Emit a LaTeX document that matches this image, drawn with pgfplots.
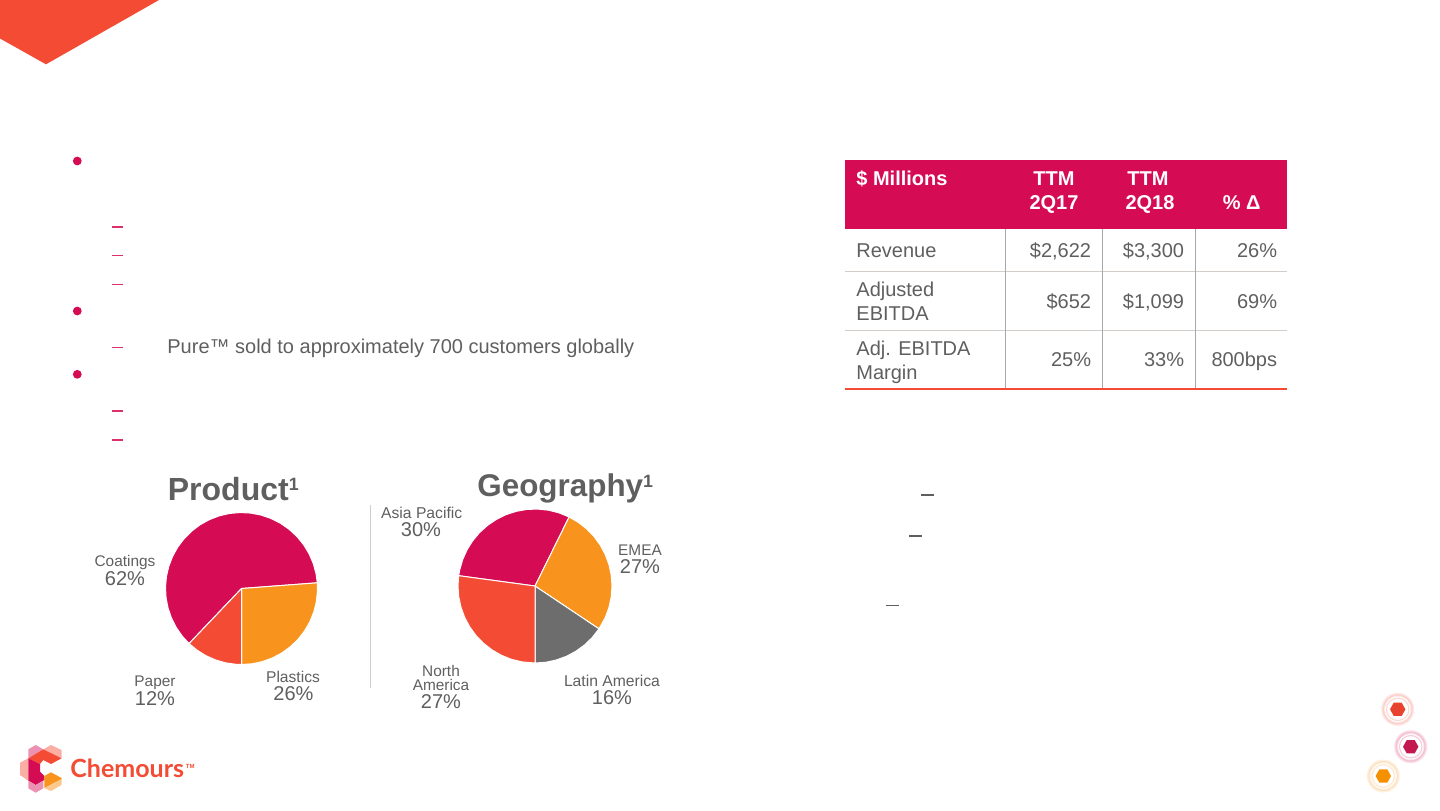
\documentclass[border=0pt]{standalone}
\usepackage{pgfplots}
\pgfplotsset{compat=1.18}
\usepgfplotslibrary{polar}
\usetikzlibrary{calc}
\usepackage{fontspec}
\setmainfont{Liberation Sans}
\newfontfamily\logofont{Lato}
\definecolor{magenta}{HTML}{D50B53}
\definecolor{redor}{HTML}{F34B34}
\definecolor{orange}{HTML}{F8931D}
\definecolor{slate}{HTML}{6D6D6D}
\definecolor{txt}{HTML}{5F5F5F}
\definecolor{rowline}{HTML}{D2CDC8}
\definecolor{colline}{HTML}{A8A8A8}
\definecolor{HexR}{HTML}{E8432F}
\definecolor{HexM}{HTML}{C2174F}
\definecolor{HexO}{HTML}{F59100}
\pgfplotsset{
  piechart/.style={
    hide axis, scale only axis, clip=false,
    xmin=0, xmax=360, ymin=0, ymax=1,
    anchor=center,
  },
  wedge/.style={fill=#1, draw=white, line width=0.5pt, line join=round},
}
% label helpers, sizes in pt (1 px = 0.5 pt)
\newcommand{\lab}[4]{\node[anchor=base, text=txt, font=\fontsize{#3}{#3}\selectfont, inner sep=0pt] at (#1,#2) {#4};}
\newcommand{\cell}[3]{\node[anchor=base east, text=txt, font=\fontsize{10}{10}\selectfont, inner sep=0pt] at (#1,#2) {#3};}
\newcommand{\rowlab}[2]{\node[anchor=base west, text=txt, font=\fontsize{10}{10}\selectfont, inner sep=0pt] at (856,#1) {#2};}
\newcommand{\head}[3]{\node[anchor=base, text=white, font=\fontsize{10}{10}\bfseries\selectfont, inner sep=0pt] at (#1,#2) {#3};}
\newcommand{\supone}[1]{\raisebox{#1}{\fontsize{8.9}{8.9}\selectfont 1}}
\newcommand{\hexmark}[4]{% x y hex colour, glow colour
  \fill[#4!14] (#1,#2) circle (16.5);
  \fill[#4!26] (#1,#2) circle (15);
  \fill[#4!12] (#1,#2) circle (13.6);
  \fill[white] (#1,#2) circle (12.8);
  \fill[#4!22] (#1,#2) circle (11.8);
  \fill[white] (#1,#2) circle (10.6);
  \fill[#3] ($(#1,#2)+(-7.7,0)$) -- ++(3.7,-6.6) -- ++(8,0) -- ++(3.7,6.6) -- ++(-3.7,6.6) -- ++(-8,0) -- cycle;
}
\begin{document}
\begin{tikzpicture}[x=0.5pt,y=-0.5pt]
\path[use as bounding box] (0,0) rectangle (1440,810);

% corner shape
\fill[redor] (0,0) -- (159,0) -- (46,64.3) -- (0,38.5) -- cycle;

% bullets
\foreach \y in {161,311,374.3} \fill[magenta] (77.3,\y) circle (4.4);
\foreach \y in {227,255.7,284.7,347.7,411,440} \draw[magenta!85!white, line width=0.65pt] (111.7,\y) -- (123,\y);
\node[anchor=base west, text=txt, font=\fontsize{10}{10}\selectfont, inner sep=0pt] at (167,353) {Pure™ sold to approximately 700 customers globally};

% right side dashes
\draw[txt, line width=0.7pt] (921,495) -- (934,495);
\draw[txt, line width=0.7pt] (909,536) -- (922,536);
\draw[txt, line width=0.7pt] (885.5,605.5) -- (898.5,605.5);

% table
\fill[magenta] (845,160) rectangle (1287,228.5);
\draw[rowline, line width=0.6pt] (845,271.3) -- (1287,271.3);
\draw[rowline, line width=0.6pt] (845,330.3) -- (1287,330.3);
\foreach \x in {1005.3,1102.7,1195.3} \draw[colline, line width=0.6pt] (\x,228.5) -- (\x,388);
\draw[redor, line width=1pt] (845,388.5) -- (1287,388.5);
\node[anchor=base west, text=white, font=\fontsize{10}{10}\bfseries\selectfont, inner sep=0pt] at (856,185.7) {\$ Millions};
\head{1054}{185.7}{TTM}
\head{1054}{209.3}{2Q17}
\head{1148}{185.7}{TTM}
\head{1150}{209.3}{2Q18}
\head{1241.7}{209.3}{\% Δ}
\rowlab{257}{Revenue}
\rowlab{296}{Adjusted}
\rowlab{320}{EBITDA}
\rowlab{355.7}{Adj. EBITDA}
\rowlab{379.3}{Margin}
\cell{1091.5}{257}{\$2,622}
\cell{1184.5}{257}{\$3,300}
\cell{1277.5}{257}{26\%}
\cell{1091.5}{308}{\$652}
\cell{1184.5}{308}{\$1,099}
\cell{1277.5}{308}{69\%}
\cell{1091.5}{366.7}{25\%}
\cell{1184.5}{366.7}{33\%}
\cell{1277.5}{366.7}{800bps}

% divider
\draw[rowline, line width=0.75pt] (370.5,505) -- (370.5,688);

\coordinate (pa) at (241.5,588.5);
\coordinate (pb) at (535,586);

% Product: Coatings 62, Plastics 26, Paper 12 (edges)
\begin{polaraxis}[piechart, at={(pa)}, width=76pt]
\addplot[wedge=magenta] coordinates {(0,0) (4.3,1) (11,1) (19,1) (27,1) (35,1) (43,1) (51,1) (59,1) (67,1) (75,1) (83,1) (91,1) (99,1) (107,1) (115,1) (123,1) (131,1) (139,1) (147,1) (155,1) (163,1) (171,1) (179,1) (187,1) (195,1) (203,1) (211,1) (219,1) (226.4,1) (0,0)} -- cycle;
\addplot[wedge=orange] coordinates {(0,0) (-90,1) (-82,1) (-74,1) (-66,1) (-58,1) (-50,1) (-42,1) (-34,1) (-26,1) (-18,1) (-10,1) (-2,1) (4.3,1) (0,0)} -- cycle;
\addplot[wedge=redor] coordinates {(0,0) (226.4,1) (234,1) (242,1) (250,1) (258,1) (266,1) (270,1) (0,0)} -- cycle;
\end{polaraxis}

% Geography: Asia Pacific 30, EMEA 27, Latin America 16, North America 27
\begin{polaraxis}[piechart, at={(pb)}, width=77pt]
\addplot[wedge=magenta] coordinates {(0,0) (63.7,1) (72,1) (80,1) (88,1) (96,1) (104,1) (112,1) (120,1) (128,1) (136,1) (144,1) (152,1) (160,1) (168,1) (172.3,1) (0,0)} -- cycle;
\addplot[wedge=orange] coordinates {(0,0) (-33.8,1) (-24,1) (-16,1) (-8,1) (0,1) (8,1) (16,1) (24,1) (32,1) (40,1) (48,1) (56,1) (63.7,1) (0,0)} -- cycle;
\addplot[wedge=slate] coordinates {(0,0) (-90,1) (-82,1) (-74,1) (-66,1) (-58,1) (-50,1) (-42,1) (-33.8,1) (0,0)} -- cycle;
\addplot[wedge=redor] coordinates {(0,0) (172.3,1) (180,1) (188,1) (196,1) (204,1) (212,1) (220,1) (228,1) (236,1) (244,1) (252,1) (260,1) (270,1) (0,0)} -- cycle;
\end{polaraxis}

% pie titles and labels
\node[anchor=base west, text=txt, font=\fontsize{16}{16}\bfseries\selectfont, inner sep=0pt] at (167.5,500.7) {Product\supone{5pt}};
\node[anchor=base west, text=txt, font=\fontsize{15.7}{15.7}\bfseries\selectfont, inner sep=0pt] at (477,496.7) {Geography\supone{4.4pt}};
\lab{125}{566.7}{7.7}{Coatings}
\lab{125}{585}{10}{62\%}
\lab{155}{686.7}{7.7}{Paper}
\lab{155}{705}{10}{12\%}
\lab{293}{682}{7.8}{Plastics}
\lab{293.5}{700.7}{10}{26\%}
\lab{421.7}{518}{7.85}{Asia Pacific}
\lab{421}{536}{10}{30\%}
\lab{640}{555}{7.7}{EMEA}
\lab{640}{573.3}{10}{27\%}
\lab{612}{686.7}{7.85}{Latin America}
\lab{612}{704}{10}{16\%}
\lab{441}{676}{7.7}{North}
\lab{441}{690.7}{7.7}{America}
\lab{441}{708}{10}{27\%}

% logo
\fill[redor!45!white] (20,762.7) -- (28.3,758.3) -- (28.3,780.7) -- (20,775) -- cycle;
\fill[magenta!45!white] (28.3,749.3) -- (35.7,745) -- (43.3,749.3) -- (28.3,758.3) -- cycle;
\fill[redor!45!white] (43.3,749.3) -- (51,745) -- (61.5,750) -- (61.5,758.3) -- cycle;
\fill[redor] (28.3,758.3) -- (43.3,749.3) -- (61.5,758.3) -- (51,764) -- (43.3,760) -- (40,764) -- cycle;
\fill[magenta] (28.3,758.3) -- (40,764) -- (40,771.7) -- (44.3,776) -- (44.3,780) -- (35.7,785) -- (28.3,780.7) -- cycle;
\fill[magenta!45!white] (28.3,780.7) -- (35.7,785) -- (43.3,780.7) -- (43.3,788.3) -- (35.7,792.7) -- (28.3,788.3) -- cycle;
\fill[orange] (44.3,776) -- (51,772.3) -- (61.5,778) -- (61.5,779.3) -- (44.3,788) -- cycle;
\fill[orange!50!white] (44.3,788) -- (61.5,779.3) -- (61.5,785) -- (51,791) -- cycle;
\node[anchor=base west, text=redor, font=\logofont\fontsize{12.5}{12.5}\bfseries\selectfont, inner sep=0pt] at (70,777.5) {Chemours};
\node[anchor=base west, text=redor, font=\fontsize{3}{3}\bfseries\selectfont, inner sep=0pt] at (185.5,768) {TM};

% hexagon marks
\hexmark{1397.7}{709.3}{HexR}{redor}
\hexmark{1410.7}{746.7}{HexM}{magenta}
\hexmark{1383.3}{776}{HexO}{orange}
\end{tikzpicture}
\end{document}
